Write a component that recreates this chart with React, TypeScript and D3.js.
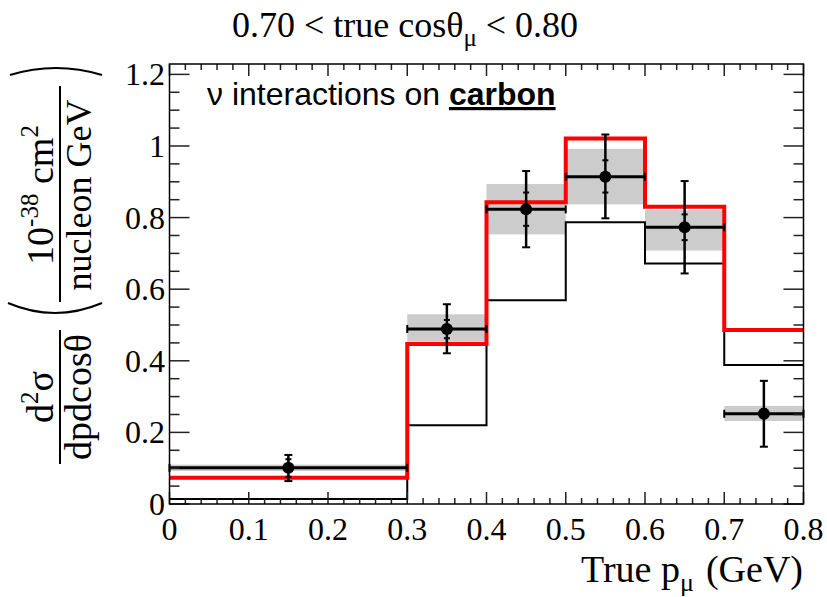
import React from "react";
import * as d3 from "d3";

const binEdges = [0, 0.3, 0.4, 0.5, 0.6, 0.7, 0.8];
const predRed = [0.073, 0.447, 0.843, 1.021, 0.83, 0.486];
const predBlack = [0.014, 0.22, 0.569, 0.787, 0.672, 0.388];
const dataVal = [0.101, 0.489, 0.823, 0.914, 0.773, 0.252];
const totErrLo = [0.064, 0.421, 0.717, 0.798, 0.644, 0.16];
const totErrHi = [0.137, 0.558, 0.93, 1.032, 0.902, 0.344];
const statLo = [0.076, 0.463, 0.777, 0.87, 0.737, 0.24];
const statHi = [0.125, 0.514, 0.87, 0.96, 0.809, 0.265];
const bandLo = [0.092, 0.453, 0.753, 0.837, 0.708, 0.232];
const bandHi = [0.11, 0.53, 0.894, 0.992, 0.821, 0.274];
const xTickVals = [0, 0.1, 0.2, 0.3, 0.4, 0.5, 0.6, 0.7, 0.8];
const xTickLabels = ["0", "0.1", "0.2", "0.3", "0.4", "0.5", "0.6", "0.7", "0.8"];
const yTickVals = [0, 0.2, 0.4, 0.6, 0.8, 1, 1.2];
const yTickLabels = ["0", "0.2", "0.4", "0.6", "0.8", "1", "1.2"];

const W = 827;
const H = 597;
const L = 169.5;
const R = 803.5;
const T = 64;
const B = 504;
const SERIF = "'Liberation Serif', 'Times New Roman', serif";
const SANS = "'Liberation Sans', Arial, sans-serif";

export default function App() {
  const x = d3.scaleLinear().domain([0, 0.8]).range([L, R]);
  const y = d3.scaleLinear().domain([0, 1.229]).range([B, T]);

  const stepPts = (vals: number[]) => {
    const pts: [number, number][] = [];
    vals.forEach((v, i) => {
      pts.push([binEdges[i], v]);
      pts.push([binEdges[i + 1], v]);
    });
    return pts;
  };
  const line = d3
    .line<[number, number]>()
    .x((d) => x(d[0]))
    .y((d) => y(d[1]));

  const xMinor = d3.range(0, 0.8001, 0.02);
  const yMinor = d3.range(0, 1.229, 0.05);

  const tickColor = "#222";
  const bins = dataVal.map((v, i) => ({
    v,
    x0: binEdges[i],
    x1: binEdges[i + 1],
    xc: (binEdges[i] + binEdges[i + 1]) / 2,
    i,
  }));

  return (
    <svg
      width={W}
      height={H}
      style={{ position: "absolute", left: 0, top: 0, background: "#fff" }}
    >
      {/* Title */}
      <text x={405} y={37} textAnchor="middle" fontFamily={SERIF} fontSize={36}>
        0.70 &lt; true cosθ
        <tspan fontSize={25} dy={9}>μ</tspan>
        <tspan dy={-9}> &lt; 0.80</tspan>
      </text>

      {/* gray bands */}
      {bins.map((b) => (
        <rect
          key={"band" + b.i}
          x={x(b.x0)}
          width={x(b.x1) - x(b.x0)}
          y={y(bandHi[b.i])}
          height={y(bandLo[b.i]) - y(bandHi[b.i])}
          fill="#cccccc"
        />
      ))}

      {/* black MC histogram */}
      <path d={line(stepPts(predBlack)) || ""} fill="none" stroke="#000" strokeWidth={2} />
      {/* red histogram */}
      <path d={line(stepPts(predRed)) || ""} fill="none" stroke="#ff0000" strokeWidth={4} />

      {/* data points */}
      {bins.map((b) => {
        const cx = x(b.xc);
        const cy = y(b.v);
        return (
          <g key={"pt" + b.i} stroke="#000">
            <line x1={x(b.x0)} x2={x(b.x1)} y1={cy} y2={cy} strokeWidth={3} />
            <line x1={x(b.x0)} x2={x(b.x0)} y1={cy - 4} y2={cy + 4} strokeWidth={2} />
            <line x1={x(b.x1)} x2={x(b.x1)} y1={cy - 4} y2={cy + 4} strokeWidth={2} />
            <line x1={cx} x2={cx} y1={y(totErrHi[b.i])} y2={y(totErrLo[b.i])} strokeWidth={2.5} />
            <line x1={cx - 4} x2={cx + 4} y1={y(totErrHi[b.i])} y2={y(totErrHi[b.i])} strokeWidth={2} />
            <line x1={cx - 4} x2={cx + 4} y1={y(totErrLo[b.i])} y2={y(totErrLo[b.i])} strokeWidth={2} />
            <line x1={cx - 3} x2={cx + 3} y1={y(statHi[b.i])} y2={y(statHi[b.i])} strokeWidth={2} />
            <line x1={cx - 3} x2={cx + 3} y1={y(statLo[b.i])} y2={y(statLo[b.i])} strokeWidth={2} />
            <circle cx={cx} cy={cy} r={6} fill="#000" stroke="none" />
          </g>
        );
      })}

      {/* ticks */}
      <g stroke={tickColor} strokeWidth={1.5}>
        {xMinor.map((v, i) => {
          const major = i % 5 === 0;
          const len = major ? 12 : 6;
          return (
            <g key={"xt" + i}>
              <line x1={x(v)} x2={x(v)} y1={B} y2={B - len} />
              <line x1={x(v)} x2={x(v)} y1={T} y2={T + len} />
            </g>
          );
        })}
        {yMinor.map((v, i) => {
          const major = i % 4 === 0;
          const len = major ? 20 : 10;
          return (
            <g key={"yt" + i}>
              <line x1={L} x2={L + len} y1={y(v)} y2={y(v)} />
              <line x1={R} x2={R - len} y1={y(v)} y2={y(v)} />
            </g>
          );
        })}
      </g>

      {/* frame */}
      <rect x={L} y={T} width={R - L} height={B - T} fill="none" stroke="#000" strokeWidth={1.5} />

      {/* tick labels */}
      {xTickVals.map((v, i) => (
        <text
          key={"xl" + i}
          x={x(v)}
          y={540}
          textAnchor="middle"
          fontFamily={SERIF}
          fontSize={32}
        >
          {xTickLabels[i]}
        </text>
      ))}
      {yTickVals.map((v, i) => (
        <text
          key={"yl" + i}
          x={165}
          y={y(v) + 11}
          textAnchor="end"
          fontFamily={SERIF}
          fontSize={32}
        >
          {yTickLabels[i]}
        </text>
      ))}

      {/* x axis title */}
      <text x={803} y={582} textAnchor="end" fontFamily={SERIF} fontSize={38}>
        True p
        <tspan fontSize={26} dy={9}>μ</tspan>
        <tspan dy={-9} dx={12}>(GeV)</tspan>
      </text>

      {/* legend text */}
      <text x={207} y={105} fontFamily={SANS} fontSize={32}>
        ν interactions on{" "}
        <tspan fontWeight="bold" style={{ textDecoration: "underline" }}>
          carbon
        </tspan>
      </text>

      {/* y axis title */}
      <g fontFamily={SERIF} fontSize={38} transform="rotate(-90)">
        <text x={-397} y={53} textAnchor="middle">
          d<tspan fontSize={25} dy={-15}>2</tspan>
          <tspan dy={15}>σ</tspan>
        </text>
        <text x={-397} y={91} textAnchor="middle">
          dpdcosθ
        </text>
        <text x={-195} y={53} textAnchor="middle">
          10<tspan fontSize={25} dy={-15}>-38</tspan>
          <tspan dy={15}> cm</tspan>
          <tspan fontSize={25} dy={-15}>2</tspan>
        </text>
        <text x={-195} y={91} textAnchor="middle" fontSize={36}>
          nucleon GeV
        </text>
      </g>
      <g stroke="#000" fill="none" strokeWidth={2}>
        <line x1={60} x2={60} y1={330} y2={464} />
        <line x1={60} x2={60} y1={86} y2={302} />
        <path d="M 8,303 Q 55,323 102,303" />
        <path d="M 10,75 Q 56,61 102,75" />
      </g>
    </svg>
  );
}
